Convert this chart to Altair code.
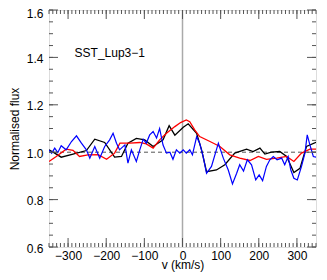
import altair as alt
import pandas as pd

# ---- data ----
black_v = [-350, -335, -318, -287, -252, -230, -204, -178, -160, -143, -121, -99, -77, -51, -35, -20, 2, 15, 37, 50,
           63, 89, 111, 137, 168, 185, 203, 216, 233, 255, 273, 292, 308, 325, 350]
black_f = [1.010, 0.996, 0.979, 0.992, 1.007, 1.055, 1.041, 0.979, 0.982, 1.038, 1.058, 1.052, 1.024, 1.052, 1.112,
           1.072, 1.105, 1.120, 1.080, 1.010, 0.918, 0.925, 0.947, 0.996, 1.013, 1.003, 1.017, 0.992, 1.000, 1.003,
           0.982, 0.914, 0.932, 1.024, 1.042]

red_v = [-350, -331, -305, -287, -270, -248, -221, -199, -178, -164, -138, -112, -95, -77, -60, -42, -20, -5, 10, 19,
         32, 45, 72, 98, 124, 150, 177, 199, 220, 247, 273, 292, 312, 334, 350]
red_f = [0.961, 0.982, 1.013, 1.008, 0.982, 0.989, 0.990, 0.970, 0.996, 1.038, 1.038, 1.041, 1.035, 1.017, 1.052,
         1.080, 1.108, 1.125, 1.136, 1.129, 1.094, 1.066, 1.045, 1.024, 0.989, 0.975, 0.965, 0.982, 0.970, 0.975,
         0.982, 0.961, 0.996, 1.013, 1.013]

blue_v = [-351, -343, -335, -327, -318, -305, -291, -278, -265, -252, -243, -230, -217, -204, -191, -182, -173, -165,
          -151, -143, -134, -121, -112, -103, -95, -86, -77, -68, -60, -51, -42, -33, -25, -16, -7, 2, 10, 19, 26,
          37, 45, 54, 63, 76, 94, 107, 120, 131, 142, 150, 160, 170, 181, 192, 201, 210, 220, 229, 238, 248, 260,
          268, 277, 284, 292, 301, 312, 321, 327, 334, 343, 350]
blue_f = [1.010, 0.996, 1.017, 0.998, 1.027, 1.010, 1.045, 1.069, 1.038, 1.010, 0.975, 1.024, 0.975, 1.024, 1.052,
          1.080, 1.038, 1.010, 1.031, 0.954, 1.010, 0.961, 1.010, 1.055, 1.038, 1.073, 1.087, 1.060, 1.100, 1.030,
          0.996, 1.000, 0.970, 1.010, 0.996, 1.010, 0.996, 1.010, 0.989, 1.065, 1.038, 0.982, 0.911, 0.940, 1.038,
          0.975, 0.925, 0.866, 0.911, 0.947, 0.920, 0.968, 0.947, 0.883, 0.904, 0.880, 0.940, 0.968, 0.982, 0.968,
          0.975, 0.947, 0.982, 0.925, 0.890, 0.883, 0.940, 0.996, 1.073, 1.031, 0.982, 0.979]

x_major = [-300, -200, -100, 0, 100, 200, 300]
x_minor = list(range(-350, 351, 10))
y_major = [0.6, 0.8, 1.0, 1.2, 1.4, 1.6]
y_minor = [round(0.6 + 0.05 * i, 2) for i in range(21)]

label_text = ["SST_Lup3\u22121"]
label_v = [-283]
label_f = [1.402]

W, H = 267, 237
FONT = "Liberation Sans"
FRAME = "#555555"


def xenc(field="v"):
    return alt.X(f"{field}:Q",
                 scale=alt.Scale(domain=[-350, 350], nice=False, zero=False),
                 axis=alt.Axis(values=x_major, ticks=False, domain=False, grid=False,
                               labelFontSize=12, labelFont=FONT, labelColor="black", labelPadding=3,
                               title="v (km/s)", titleFontSize=12, titleFont=FONT,
                               titleFontWeight="normal", titleColor="black", titlePadding=-2))


def yenc(field="f"):
    return alt.Y(f"{field}:Q",
                 scale=alt.Scale(domain=[0.6, 1.6], nice=False, zero=False),
                 axis=alt.Axis(values=y_major, format=".1f", ticks=False, domain=False, grid=False,
                               labelFontSize=12, labelFont=FONT, labelColor="black", labelPadding=6,
                               labelOffset=alt.condition("datum.value > 1.55", alt.value(3), alt.value(1)),
                               title="Normalised flux", titleFontSize=12, titleFont=FONT,
                               titleFontWeight="normal", titleColor="black", titlePadding=5))


def line(v, f, color, width):
    df = pd.DataFrame({"v": v, "f": f})
    return alt.Chart(df).mark_line(color=color, strokeWidth=width, clip=True).encode(x=xenc(), y=yenc())


zero_line = alt.Chart(pd.DataFrame({"v": [0]})).mark_rule(color="#aaaaaa", strokeWidth=1.5).encode(x=xenc())
one_line = alt.Chart(pd.DataFrame({"f": [1.0]})).mark_rule(color="#555555", strokeWidth=1,
                                                             strokeDash=[4, 3]).encode(y=yenc())

xmaj_df = pd.DataFrame({"v": x_major})
xmin_df = pd.DataFrame({"v": x_minor})
ymaj_df = pd.DataFrame({"f": y_major})
ymin_df = pd.DataFrame({"f": y_minor})

tick_layers = []
for df, L in [(xmaj_df, 9), (xmin_df, 4)]:
    tick_layers.append(alt.Chart(df).mark_rule(color=FRAME, strokeWidth=1).encode(
        x=xenc(), y=alt.value(H), y2=alt.value(H - L)))
    tick_layers.append(alt.Chart(df).mark_rule(color=FRAME, strokeWidth=1).encode(
        x=xenc(), y=alt.value(0), y2=alt.value(L)))
for df, L in [(ymaj_df, 9), (ymin_df, 4)]:
    tick_layers.append(alt.Chart(df).mark_rule(color=FRAME, strokeWidth=1).encode(
        y=yenc(), x=alt.value(0), x2=alt.value(L)))
    tick_layers.append(alt.Chart(df).mark_rule(color=FRAME, strokeWidth=1).encode(
        y=yenc(), x=alt.value(W), x2=alt.value(W - L)))

label = alt.Chart(pd.DataFrame({"v": label_v, "f": label_f, "t": label_text})).mark_text(
    align="left", baseline="alphabetic", fontSize=12, font=FONT, color="black"
).encode(x=xenc(), y=yenc(), text="t:N")

chart = alt.layer(
    zero_line, one_line,
    line(black_v, black_f, "black", 1.3),
    line(red_v, red_f, "#ff0000", 1.3),
    line(blue_v, blue_f, "#0000ff", 1.2),
    label,
    *tick_layers,
).properties(
    width=W, height=H,
    autosize=alt.AutoSizeParams(type="none"),
    padding={"left": 41, "top": 2, "right": 3, "bottom": 25},
).configure_view(stroke=FRAME, strokeWidth=1).configure(background="white")

chart.save("out.html", embed_options={"renderer": "svg", "actions": False})
